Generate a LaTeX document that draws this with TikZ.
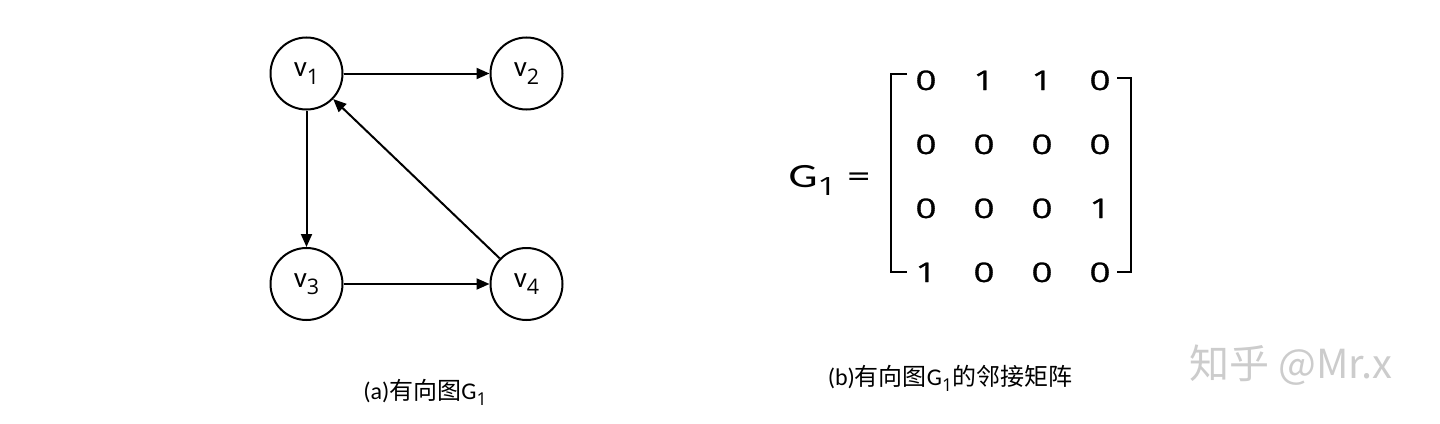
\documentclass[tikz,border=0pt]{standalone}
\usepackage{graphicx}
\usepackage{fontspec}
\setmainfont{Carlito}
\newfontfamily\numfont{Open Sans}
\newfontfamily\entryfont{Open Sans}[FakeBold=1]
\newfontfamily\cjk{Noto Sans CJK SC}
\usetikzlibrary{positioning,arrows.meta}
\tikzset{
    vertex/.style = {
        draw,
        shape=circle,
        minimum size=72pt,
        inner sep=0pt,
        line width=2pt,
        font=\fontsize{29}{30}\selectfont
    },
    entry/.style = {
        anchor=base,
        font=\entryfont\fontsize{27}{28}\selectfont
    },
    bracket/.style = {
        line width=2.6pt
    },
    edge/.style = {
        draw,
        line width=2pt,
        ->
    },
    caption/.style = {
        font=\fontsize{24}{26}\selectfont
    },
    >={Triangle[length=13pt,width=11pt]},
}
\newcommand{\wide}[1]{\scalebox{1.35}[1]{#1}}
\newcommand{\lowidx}[1]{\raisebox{-0.25em}{\scalebox{0.74}{\numfont #1}}}

\begin{document}
\begin{tikzpicture}[x=1pt, y=-1pt]
    \useasboundingbox (0,0) rectangle (1440,423);

    % graph
    \node[vertex] (v1) at (306.5,73.5) {v\lowidx{1}};
    \node[vertex] (v2) at (526.5,73.5) {v\lowidx{2}};
    \node[vertex] (v3) at (306.5,284) {v\lowidx{3}};
    \node[vertex] (v4) at (526.5,284) {v\lowidx{4}};

    \path[edge] (v1) -- (v2);
    \path[edge] (v1) -- (v3);
    \path[edge] (v3) -- (v4);
    \path[edge] (v4) -- (v1);

    % adjacency matrix
    \node[anchor=base west, font=\fontsize{34}{36}\selectfont] (g1) at (785,187)
        {\wide{G\lowidx{1} =}};
    \foreach \row [count=\i] in {{0,1,1,0},{0,0,0,0},{0,0,0,1},{1,0,0,0}} {
        \foreach \val [count=\j] in \row {
            \node[entry] (m\i\j) at ({868+58*\j},{26+64*\i}) {\wide{\val}};
        }
    }
    \draw[bracket] (907,74) -| (891,272) -- (907,272);
    \draw[bracket] (1117,78) -| (1131,272) -- (1117,272);

    % captions
    \node[caption] (capa) at (425,392) {(a){\cjk 有向图}G\lowidx{1}};
    \node[caption] (capb) at (950,378)
        {(b){\cjk 有向图}G\lowidx{1}{\cjk 的邻接矩阵}};

    \node[font=\fontsize{40}{42}\selectfont, text=gray!40] (mark) at (1291,365)
        {{\cjk 知乎 @Mr.x}};
\end{tikzpicture}
\end{document}
